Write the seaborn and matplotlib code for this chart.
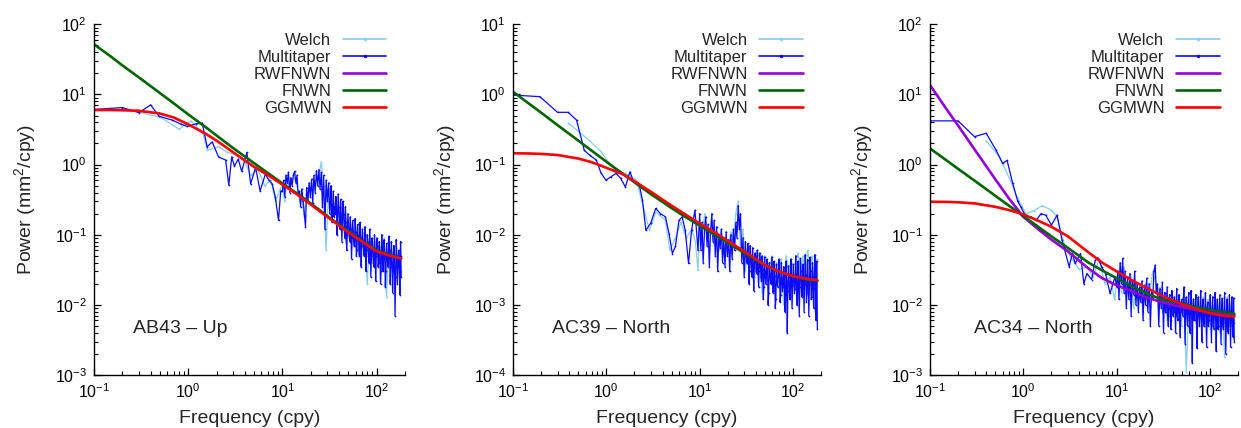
import matplotlib
matplotlib.use('Agg')
import matplotlib.pyplot as plt
import seaborn as sns
from matplotlib.lines import Line2D
from matplotlib.ticker import LogLocator, NullFormatter

sns.set_style('ticks')
plt.rcParams['font.family'] = ['Liberation Sans', 'DejaVu Sans']
plt.rcParams['mathtext.fontset'] = 'custom'
plt.rcParams['mathtext.rm'] = 'Liberation Sans'
plt.rcParams['mathtext.it'] = 'Liberation Sans:italic'
plt.rcParams['mathtext.bf'] = 'Liberation Sans:bold'

# ---- data ----
series_names = ['Welch', 'Multitaper', 'RWFNWN', 'FNWN', 'GGMWN']
station_labels = ['AB43 \u2013 Up', 'AC39 \u2013 North', 'AC34 \u2013 North']

# frequencies where the fitted model curves were read
f_fit = [0.1, 0.15, 0.2, 0.3, 0.5, 0.7, 1, 1.5, 2, 3, 5, 7, 10, 15, 20, 30, 50, 70, 100, 140, 182.6]

ggm1 = [6.0, 6.0, 5.95, 5.85, 5.35, 4.7, 3.75, 2.8, 2.2, 1.5, 0.93, 0.71, 0.52, 0.36, 0.27, 0.18, 0.108, 0.08, 0.058, 0.05, 0.046]
fn1 = [52, 35, 26, 17.5, 10.5, 7.5, 5.2, 3.5, 2.6, 1.72, 1.05, 0.76, 0.54, 0.37, 0.28, 0.185, 0.112, 0.082, 0.06, 0.051, 0.046]

ggm2 = [0.145, 0.144, 0.142, 0.137, 0.122, 0.108, 0.09, 0.073, 0.058, 0.041, 0.026, 0.0195, 0.0145, 0.0105, 0.0082, 0.0058, 0.0037, 0.0030, 0.00258, 0.00235, 0.00225]
fn2 = [1.09, 0.73, 0.55, 0.365, 0.22, 0.157, 0.11, 0.074, 0.056, 0.038, 0.024, 0.018, 0.0135, 0.0097, 0.0077, 0.0055, 0.0037, 0.0030, 0.0026, 0.0023, 0.0022]

rw3 = [13.6, 6.2, 3.6, 1.65, 0.62, 0.33, 0.18, 0.115, 0.085, 0.058, 0.033, 0.024, 0.019, 0.0155, 0.013, 0.011, 0.0093, 0.0085, 0.0078, 0.0074, 0.0071]
fn3 = [1.7, 1.15, 0.87, 0.59, 0.36, 0.26, 0.185, 0.125, 0.095, 0.065, 0.04, 0.031, 0.024, 0.018, 0.015, 0.012, 0.0105, 0.0093, 0.0085, 0.0079, 0.0075]
ggm3 = [0.295, 0.294, 0.29, 0.28, 0.25, 0.225, 0.195, 0.155, 0.13, 0.095, 0.056, 0.04, 0.03, 0.022, 0.018, 0.0137, 0.0102, 0.0088, 0.0076, 0.0070, 0.0068]

# high frequency part of the spectra (shared frequency grid)
f_hi = [10, 10.3, 10.6, 10.9, 11.3, 11.6, 12, 12.3, 12.7, 13.1,
        13.5, 13.9, 14.3, 14.7, 15.2, 15.6, 16.1, 16.6, 17.1, 17.6,
        18.1, 18.7, 19.2, 19.8, 20.4, 21, 21.6, 22.3, 23, 23.7,
        24.4, 25.1, 25.9, 26.6, 27.4, 28.3, 29.1, 30, 30.9, 31.8,
        32.8, 33.8, 34.8, 35.8, 36.9, 38, 39.1, 40.3, 41.5, 42.8,
        44, 45.4, 46.7, 48.1, 49.6, 51.1, 52.6, 54.2, 55.8, 57.5,
        59.2, 61, 62.8, 64.7, 66.6, 68.6, 70.7, 72.8, 75, 77.2,
        79.6, 81.9, 84.4, 86.9, 89.5, 92.2, 95, 97.8, 100.8, 103.8,
        106.9, 110.1, 113.4, 116.8, 120.3, 123.9, 127.6, 131.5, 135.4, 139.5,
        143.6, 147.9, 152.4, 157, 161.7, 166.5, 171.5, 176.7, 179.6, 182.6]
# extra multitaper samples in between, where the band is densest
f_hi2 = [32.3, 33.3, 34.3, 35.3, 36.3, 37.4, 38.5, 39.7, 40.9, 42.1,
         43.4, 44.7, 46, 47.4, 48.8, 50.3, 51.8, 53.4, 55, 56.6,
         58.3, 60.1, 61.9, 63.7, 65.6, 67.6, 69.6, 71.7, 73.9, 76.1,
         78.4, 80.7, 83.1, 85.6, 88.2, 90.8, 93.6, 96.4, 99.3, 102.3,
         105.3, 108.5, 111.7, 115.1, 118.5, 122.1, 125.7, 129.5, 133.4, 137.4,
         141.5, 145.7, 150.1, 154.7, 159.3, 164.1, 169, 174.1, 178.1, 181.1]

# panel 1: AB43 - Up
mt1_lo_f = [0.1, 0.2, 0.3, 0.4, 0.49, 0.68, 0.83, 0.98, 1.2, 1.41, 1.59, 1.8, 2.1, 2.5, 2.7,
            2.9, 3.1, 3.4, 3.7, 4.2, 4.6, 5.2, 5.8, 6.6, 7.2, 7.8, 8.4, 9.1, 9.6]
mt1_lo_p = [6.1, 6.5, 5.5, 7.1, 4.9, 4.3, 3.8, 3.5, 3.8, 3.9, 1.8, 2.1, 1.29, 1.16, 0.51,
            1.29, 0.95, 1.2, 0.8, 1.49, 0.53, 0.91, 0.42, 0.73, 0.6, 0.53, 0.35, 0.16, 0.42]
mt1_hi_p = [0.42, 0.6, 0.35, 0.7, 0.55, 0.78, 0.4, 0.65, 0.5, 0.72,
            0.8, 0.55, 0.7, 0.38, 0.42, 0.25, 0.45, 0.3, 0.2, 0.13,
            0.47, 0.3, 0.55, 0.35, 0.62, 0.28, 0.7, 0.4, 0.82, 0.5,
            0.85, 0.45, 0.78, 0.25, 0.7, 0.12, 0.6, 0.3, 0.55, 0.2,
            0.5, 0.15, 0.42, 0.25, 0.35, 0.1, 0.38, 0.16, 0.32, 0.08,
            0.3, 0.12, 0.25, 0.06, 0.2, 0.1, 0.18, 0.045, 0.16, 0.07,
            0.17, 0.05, 0.14, 0.08, 0.15, 0.035, 0.12, 0.06, 0.13, 0.03,
            0.1, 0.05, 0.12, 0.025, 0.09, 0.04, 0.1, 0.022, 0.09, 0.035,
            0.08, 0.02, 0.1, 0.03, 0.085, 0.018, 0.075, 0.035, 0.095, 0.02,
            0.08, 0.015, 0.07, 0.007, 0.085, 0.02, 0.06, 0.014, 0.08, 0.025]
mt1_hi2_p = [0.3, 0.22, 0.28, 0.18, 0.2, 0.3, 0.15, 0.25, 0.12, 0.2,
             0.15, 0.2, 0.09, 0.15, 0.1, 0.14, 0.08, 0.12, 0.09, 0.11,
             0.07, 0.11, 0.06, 0.1, 0.05, 0.09, 0.07, 0.085, 0.05, 0.075,
             0.06, 0.08, 0.04, 0.07, 0.05, 0.065, 0.035, 0.06, 0.05, 0.07,
             0.04, 0.055, 0.03, 0.06, 0.045, 0.05, 0.03, 0.055, 0.04, 0.06,
             0.035, 0.05, 0.03, 0.045, 0.025, 0.05, 0.035, 0.04, 0.03, 0.05]
w1_lo_f = [0.3, 0.51, 0.8, 1.06, 1.42, 1.6, 2.1, 2.6, 3.3, 4.0, 4.6, 5.5, 6.5, 7.5, 8.5, 9.5]
w1_lo_p = [5.6, 4.7, 3.2, 4.2, 2.9, 1.6, 1.8, 1.5, 1.36, 1.1, 0.7, 0.85, 0.5, 0.6, 0.3, 0.45]
w1_hi_p = [0.5, 0.3, 0.7, 0.45, 0.6, 0.65, 0.5, 0.3, 0.35, 0.18,
           0.4, 0.45, 0.5, 0.55, 0.6, 0.7, 1.1, 0.5, 0.06, 0.45,
           0.35, 0.3, 0.2, 0.25, 0.12, 0.22, 0.08, 0.15, 0.14, 0.1,
           0.12, 0.09, 0.05, 0.11, 0.1, 0.02, 0.09, 0.06, 0.08, 0.05,
           0.07, 0.06, 0.09, 0.013, 0.07, 0.05, 0.06, 0.04, 0.055, 0.03]

# panel 2: AC39 - North
mt2_lo_f = [0.1, 0.194, 0.3, 0.39, 0.48, 0.58, 0.66, 0.78, 0.88, 0.99, 1.12, 1.27, 1.42, 1.6, 1.79, 1.93,
            2.25, 2.44, 2.65, 2.98, 3.38, 3.8, 4.3, 4.7, 5.1, 5.5, 6.0, 6.5, 7.0, 7.6, 8.2, 8.9, 9.6]
mt2_lo_p = [0.98, 0.93, 0.556, 0.556, 0.43, 0.16, 0.137, 0.116, 0.075, 0.06, 0.067, 0.075, 0.064, 0.048, 0.079, 0.06,
            0.052, 0.031, 0.0116, 0.0145, 0.0237, 0.02, 0.018, 0.0104, 0.0054, 0.0068, 0.016, 0.018, 0.0116, 0.0039,
            0.0116, 0.0224, 0.006]
mt2_hi_p = [0.02, 0.006, 0.015, 0.004, 0.012, 0.018, 0.007, 0.014, 0.0035, 0.011,
            0.02, 0.008, 0.016, 0.005, 0.013, 0.003, 0.01, 0.0065, 0.012, 0.004,
            0.009, 0.0035, 0.011, 0.005, 0.0085, 0.003, 0.01, 0.0045, 0.012, 0.006,
            0.015, 0.009, 0.026, 0.012, 0.02, 0.004, 0.009, 0.0025, 0.008, 0.004,
            0.0075, 0.002, 0.007, 0.0035, 0.0065, 0.0016, 0.0055, 0.003, 0.006, 0.0018,
            0.0055, 0.0025, 0.005, 0.0012, 0.0048, 0.002, 0.0045, 0.001, 0.004, 0.0022,
            0.0048, 0.0015, 0.0042, 0.0009, 0.0038, 0.0018, 0.0045, 0.0011, 0.004, 0.0016,
            0.0035, 0.0008, 0.0042, 0.0004, 0.0036, 0.0012, 0.0045, 0.0009, 0.0038, 0.0015,
            0.005, 0.001, 0.0042, 0.0007, 0.0046, 0.0013, 0.0038, 0.0008, 0.0052, 0.0011,
            0.0044, 0.0007, 0.0048, 0.0012, 0.004, 0.0009, 0.0052, 0.0006, 0.0042, 0.00045]
mt2_hi2_p = [0.004, 0.005, 0.003, 0.0045, 0.0025, 0.004, 0.0035, 0.005, 0.0028, 0.0038,
             0.003, 0.004, 0.0022, 0.0033, 0.0018, 0.003, 0.0025, 0.0035, 0.0015, 0.0028,
             0.002, 0.003, 0.0016, 0.0026, 0.0012, 0.0022, 0.0025, 0.003, 0.0014, 0.0024,
             0.0018, 0.0028, 0.0011, 0.0022, 0.0016, 0.0025, 0.0013, 0.0026, 0.0019, 0.0024,
             0.0017, 0.0028, 0.0012, 0.0023, 0.0018, 0.003, 0.0014, 0.0025, 0.002, 0.0027,
             0.0015, 0.0024, 0.0019, 0.003, 0.0013, 0.0025, 0.0017, 0.0028, 0.0014, 0.0022]
w2_lo_f = [0.39, 0.5, 0.66, 0.88, 1.22, 1.6, 2.1, 2.6, 2.9, 3.4, 4.3, 4.8, 5.5, 6.3, 7.2, 8.2, 9.0, 9.6]
w2_lo_p = [0.39, 0.3, 0.22, 0.152, 0.083, 0.075, 0.06, 0.02, 0.0116, 0.021, 0.016, 0.006, 0.009, 0.015, 0.009,
           0.012, 0.008, 0.0031]
w2_hi_p = [0.015, 0.009, 0.02, 0.013, 0.01, 0.015, 0.007, 0.011, 0.006, 0.012,
           0.005, 0.009, 0.007, 0.011, 0.008, 0.02, 0.03, 0.006, 0.012, 0.003,
           0.006, 0.0045, 0.005, 0.0025, 0.006, 0.0045, 0.0015, 0.005, 0.0035, 0.003,
           0.005, 0.002, 0.004, 0.0035, 0.0045, 0.001, 0.005, 0.003, 0.0045, 0.0035,
           0.004, 0.0055, 0.003, 0.005, 0.0025, 0.006, 0.0035, 0.005, 0.0008, 0.0045]

# panel 3: AC34 - North
mt3_lo_f = [0.1, 0.2, 0.3, 0.4, 0.51, 0.6, 0.67, 0.77, 0.87, 0.94, 1.07, 1.2, 1.37, 1.55, 1.74, 2.0,
            2.3, 2.6, 3.1, 3.35, 3.6, 4.1, 4.45, 4.8, 5.4, 5.9, 6.3, 6.9, 7.6, 8.5, 9.6]
mt3_lo_p = [4.2, 4.2, 2.5, 2.8, 1.61, 1.04, 1.15, 0.54, 0.3, 0.25, 0.18, 0.18, 0.16, 0.2, 0.19, 0.137,
            0.19, 0.084, 0.035, 0.054, 0.039, 0.054, 0.02, 0.028, 0.023, 0.043, 0.047, 0.035, 0.028, 0.0146, 0.025]
mt3_hi_p = [0.018, 0.03, 0.012, 0.04, 0.02, 0.046, 0.015, 0.03, 0.009, 0.025,
            0.012, 0.028, 0.007, 0.022, 0.014, 0.03, 0.01, 0.02, 0.008, 0.018,
            0.011, 0.022, 0.006, 0.019, 0.01, 0.024, 0.008, 0.02, 0.005, 0.016,
            0.012, 0.03, 0.037, 0.015, 0.02, 0.005, 0.017, 0.009, 0.021, 0.004,
            0.015, 0.008, 0.018, 0.005, 0.014, 0.0045, 0.016, 0.007, 0.013, 0.004,
            0.017, 0.006, 0.014, 0.0035, 0.012, 0.007, 0.018, 0.0028, 0.013, 0.005,
            0.015, 0.004, 0.016, 0.0015, 0.012, 0.006, 0.014, 0.0024, 0.013, 0.005,
            0.016, 0.003, 0.012, 0.0055, 0.015, 0.0025, 0.011, 0.006, 0.014, 0.003,
            0.013, 0.0045, 0.015, 0.0022, 0.012, 0.005, 0.014, 0.0028, 0.0125, 0.0045,
            0.015, 0.002, 0.012, 0.004, 0.014, 0.0025, 0.013, 0.0035, 0.0125, 0.003]
mt3_hi2_p = [0.01, 0.008, 0.012, 0.007, 0.009, 0.011, 0.006, 0.01, 0.008, 0.011,
             0.009, 0.007, 0.011, 0.006, 0.009, 0.008, 0.012, 0.0065, 0.009, 0.0075,
             0.01, 0.006, 0.009, 0.007, 0.0085, 0.006, 0.01, 0.0055, 0.009, 0.007,
             0.008, 0.0065, 0.0095, 0.005, 0.008, 0.0065, 0.009, 0.005, 0.0085, 0.006,
             0.008, 0.005, 0.0075, 0.0065, 0.0085, 0.0045, 0.008, 0.006, 0.0075, 0.005,
             0.008, 0.0055, 0.007, 0.0045, 0.0075, 0.006, 0.008, 0.005, 0.007, 0.0055]
w3_lo_f = [0.4, 0.55, 0.71, 0.87, 1.07, 1.3, 1.6, 2.0, 2.3, 2.8, 3.3, 4.0, 4.8, 5.6, 6.5, 7.5, 8.5, 9.5]
w3_lo_p = [2.2, 1.3, 0.64, 0.33, 0.2, 0.22, 0.26, 0.224, 0.18, 0.068, 0.045, 0.032, 0.035, 0.025, 0.045,
           0.02, 0.025, 0.012]
w3_hi_p = [0.02, 0.03, 0.015, 0.035, 0.02, 0.014, 0.025, 0.009, 0.02, 0.012,
           0.018, 0.008, 0.02, 0.012, 0.017, 0.03, 0.022, 0.012, 0.018, 0.008,
           0.015, 0.006, 0.014, 0.009, 0.012, 0.007, 0.011, 0.005, 0.013, 0.0011,
           0.01, 0.008, 0.012, 0.006, 0.011, 0.007, 0.013, 0.005, 0.012, 0.0045,
           0.01, 0.007, 0.012, 0.004, 0.011, 0.0018, 0.013, 0.005, 0.011, 0.006]

# ---- style ----
colors = {'Welch': '#87CEEB', 'Multitaper': '#0A0AFF', 'RWFNWN': '#9400D3',
          'FNWN': '#006400', 'GGMWN': '#FF0000'}


def merge(lo_f, lo_p, hi_p, hi2_p):
    # interleave the two high-frequency sample sets in frequency order
    hi = sorted(zip(f_hi + f_hi2, hi_p + hi2_p))
    return lo_f + [f for f, _ in hi], lo_p + [v for _, v in hi]


mt1_f, mt1_p = merge(mt1_lo_f, mt1_lo_p, mt1_hi_p, mt1_hi2_p)
mt2_f, mt2_p = merge(mt2_lo_f, mt2_lo_p, mt2_hi_p, mt2_hi2_p)
mt3_f, mt3_p = merge(mt3_lo_f, mt3_lo_p, mt3_hi_p, mt3_hi2_p)

panels = [
    dict(mt_f=mt1_f, mt_p=mt1_p, w_f=w1_lo_f + f_hi[::2], w_p=w1_lo_p + w1_hi_p,
         fits={'FNWN': fn1, 'GGMWN': ggm1}, ylim=(1e-3, 1e2), label=station_labels[0], text_x=0.125),
    dict(mt_f=mt2_f, mt_p=mt2_p, w_f=w2_lo_f + f_hi[::2], w_p=w2_lo_p + w2_hi_p,
         fits={'FNWN': fn2, 'GGMWN': ggm2}, ylim=(1e-4, 1e1), label=station_labels[1], text_x=0.126),
    dict(mt_f=mt3_f, mt_p=mt3_p, w_f=w3_lo_f + f_hi[::2], w_p=w3_lo_p + w3_hi_p,
         fits={'RWFNWN': rw3, 'FNWN': fn3, 'GGMWN': ggm3}, ylim=(1e-3, 1e2), label=station_labels[2], text_x=0.143),
]

fig = plt.figure(figsize=(12.41, 4.28), dpi=100)
lefts = [0.0757, 0.4134, 0.7494]
widths = [0.2506, 0.2482, 0.2482]

for p, left, width in zip(panels, lefts, widths):
    ax = fig.add_axes([left, 0.1238, width, 0.8194])
    ax.set_xscale('log')
    ax.set_yscale('log')

    sns.lineplot(x=p['w_f'], y=p['w_p'], ax=ax, color=colors['Welch'], lw=0.9,
                 marker='.', markersize=2.5, markeredgewidth=0, sort=False, estimator=None)
    sns.lineplot(x=p['mt_f'], y=p['mt_p'], ax=ax, color=colors['Multitaper'], lw=0.9,
                 marker='.', markersize=2.5, markeredgewidth=0, sort=False, estimator=None)
    for name in ['RWFNWN', 'FNWN', 'GGMWN']:
        if name in p['fits']:
            sns.lineplot(x=f_fit, y=p['fits'][name], ax=ax, color=colors[name], lw=1.9,
                         sort=False, estimator=None)

    ax.set_xlim(0.1, 200)
    ax.set_ylim(*p['ylim'])

    ax.xaxis.set_major_locator(LogLocator(base=10, numticks=10))
    ax.yaxis.set_major_locator(LogLocator(base=10, numticks=10))
    ax.xaxis.set_minor_locator(LogLocator(base=10, subs=range(2, 10), numticks=20))
    ax.yaxis.set_minor_locator(LogLocator(base=10, subs=range(2, 10), numticks=20))
    ax.xaxis.set_minor_formatter(NullFormatter())
    ax.yaxis.set_minor_formatter(NullFormatter())

    ax.tick_params(which='both', direction='in', colors='black', labelsize=11.5)
    ax.tick_params(which='major', length=5, width=0.9, pad=5)
    ax.tick_params(which='minor', length=3, width=0.8)
    sns.despine(ax=ax)
    for s in ['left', 'bottom']:
        ax.spines[s].set_linewidth(1.0)
        ax.spines[s].set_color('black')

    ax.set_xlabel('Frequency (cpy)', fontsize=14)
    ax.set_ylabel('Power (mm$^2$/cpy)', fontsize=14)
    ax.xaxis.set_label_coords(0.5, -0.10)
    ax.xaxis.label.set_va('top')
    ax.yaxis.set_label_coords(-0.18, 0.5)

    ax.text(p['text_x'], 0.134, p['label'], transform=ax.transAxes, fontsize=14, va='center')

    handles = [
        Line2D([], [], color=colors['Welch'], lw=1.2, marker='.', markersize=3),
        Line2D([], [], color=colors['Multitaper'], lw=1.2, marker='.', markersize=3),
        Line2D([], [], color=colors['RWFNWN'], lw=1.9),
        Line2D([], [], color=colors['FNWN'], lw=1.9),
        Line2D([], [], color=colors['GGMWN'], lw=1.9),
    ]
    ax.legend(handles, series_names, loc='upper right', bbox_to_anchor=(0.94, 0.975),
              frameon=False, markerfirst=False, fontsize=12, handlelength=2.6,
              handletextpad=0.7, labelspacing=0.12, borderaxespad=0, borderpad=0,
              numpoints=1)

fig.savefig('out.png', dpi=100)
